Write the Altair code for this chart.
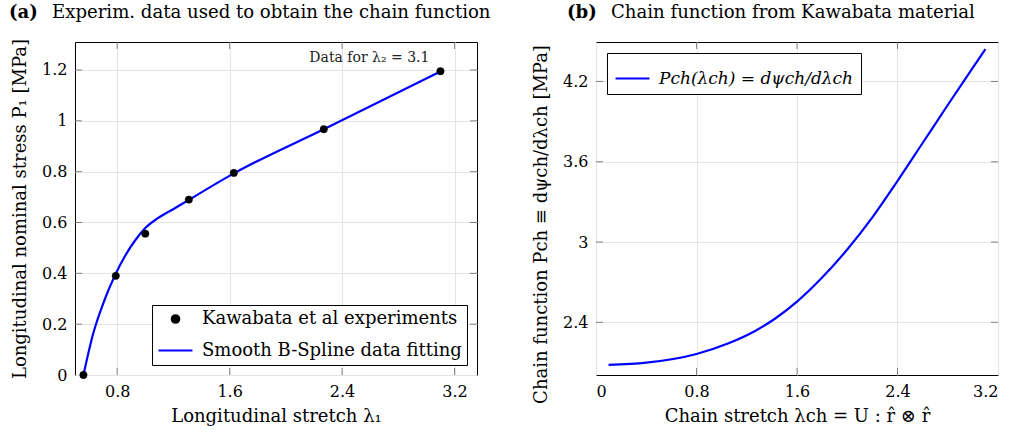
import altair as alt
import pandas as pd

FONT = "DejaVu Serif"
W, H = 402, 333

# ---------------- Panel (a) data ----------------
exp_x = [0.56, 0.79, 1.0, 1.31, 1.63, 2.27, 3.1]
exp_y = [0.0, 0.39, 0.556, 0.69, 0.795, 0.967, 1.195]
fit_x = [0.56, 0.63, 0.71, 0.78, 0.86, 0.93, 1.0, 1.09, 1.21, 1.31, 1.64, 2.27, 3.1]
fit_y = [0.0, 0.164, 0.295, 0.387, 0.472, 0.531, 0.578, 0.617, 0.656, 0.689, 0.796, 0.967, 1.194]
a_xticks = [0.8, 1.6, 2.4, 3.2]
a_yticks = [0, 0.2, 0.4, 0.6, 0.8, 1.0, 1.2]
series_a = ["Kawabata et al experiments", "Smooth B-Spline data fitting"]

# ---------------- Panel (b) data ----------------
chain_x = [0.1, 0.4, 0.8, 1.05, 1.27, 1.43, 1.6, 1.8, 2.0, 2.2, 2.4, 2.6, 2.8, 3.0, 3.1]
chain_y = [2.081, 2.098, 2.163, 2.241, 2.337, 2.43, 2.554, 2.734, 2.944, 3.184, 3.456, 3.74, 4.024, 4.304, 4.442]
b_xticks = [0, 0.8, 1.6, 2.4, 3.2]
b_yticks = [2.4, 3.0, 3.6, 4.2]
series_b = ["Pch(λch) = dψch/dλch"]

TICK_COLOR = "#555555"
TITLE_FS = 18.1


def inner_ticks(xvals, yvals, xs, ys, xa, ya):
    xt = pd.DataFrame({"x": xvals})
    yt = pd.DataFrame({"y": yvals})
    base_x = alt.Chart(xt).mark_tick(color=TICK_COLOR, thickness=1, size=7)
    base_y = alt.Chart(yt).mark_tick(color=TICK_COLOR, thickness=1, size=7)
    return [
        base_x.encode(x=alt.X("x:Q", scale=xs, axis=xa), y=alt.value(H - 3.5)),
        base_x.encode(x=alt.X("x:Q", scale=xs, axis=xa), y=alt.value(3.5)),
        base_y.encode(y=alt.Y("y:Q", scale=ys, axis=ya), x=alt.value(3.5)),
        base_y.encode(y=alt.Y("y:Q", scale=ys, axis=ya), x=alt.value(W - 3.5)),
    ]


def title_layers(tag, text, x_tag, x_text):
    d = pd.DataFrame({"tag": [tag], "txt": [text]})
    t1 = alt.Chart(d).mark_text(font=FONT, fontSize=TITLE_FS, fontWeight="bold", align="left",
                                baseline="alphabetic", color="black").encode(
        text="tag:N", x=alt.value(x_tag), y=alt.value(-24))
    t2 = alt.Chart(d).mark_text(font=FONT, fontSize=TITLE_FS, align="left",
                                baseline="alphabetic", color="black").encode(
        text="txt:N", x=alt.value(x_text), y=alt.value(-24))
    return [t1, t2]


# ---------------- Panel (a) ----------------
xs_a = alt.Scale(domain=[0.5, 3.36], nice=False, zero=False)
ys_a = alt.Scale(domain=[0, 1.31], nice=False, zero=False)
xa_a = alt.Axis(values=a_xticks, format=".1f", title="Longitudinal stretch λ₁")
ya_a = alt.Axis(values=a_yticks, format=".1~f", title="Longitudinal nominal stress P₁ [MPa]")

df_exp = pd.DataFrame({"x": exp_x, "y": exp_y, "series": series_a[0]})
df_fit = pd.DataFrame({"x": fit_x, "y": fit_y})
df_note = pd.DataFrame({"x": exp_x[-1:], "y": exp_y[-1:], "label": ["Data for λ₂ = 3.1"]})

line_a = alt.Chart(df_fit).mark_line(color="#0000ff", strokeWidth=2.2, interpolate="monotone").encode(
    x=alt.X("x:Q", scale=xs_a, axis=xa_a),
    y=alt.Y("y:Q", scale=ys_a, axis=ya_a),
)

leg_a = alt.Legend(title=None, orient="bottom-right", offset=10, fillColor="white", strokeColor="black",
                   padding=5, labelFont=FONT, labelFontSize=18, labelColor="black", labelLimit=400,
                   symbolStrokeWidth=2.2, rowPadding=4, labelOffset=8, cornerRadius=0)

pts_a = alt.Chart(df_exp).mark_point(filled=True, opacity=1, strokeWidth=0.5).encode(
    x=alt.X("x:Q", scale=xs_a, axis=xa_a),
    y=alt.Y("y:Q", scale=ys_a, axis=ya_a),
    fill=alt.Fill("series:N", scale=alt.Scale(domain=series_a, range=["black", "#0000ff"]), legend=leg_a),
    stroke=alt.Stroke("series:N", scale=alt.Scale(domain=series_a, range=["black", "#0000ff"]), legend=leg_a),
    shape=alt.Shape("series:N", scale=alt.Scale(domain=series_a, range=["circle", "stroke"]), legend=leg_a),
    size=alt.Size("series:N", scale=alt.Scale(domain=series_a, range=[55, 1150]), legend=leg_a),
)

note_a = alt.Chart(df_note).mark_text(font=FONT, fontSize=14, align="right", baseline="alphabetic",
                                      dx=-11, dy=-9, color="#222222").encode(
    x=alt.X("x:Q", scale=xs_a, axis=xa_a), y=alt.Y("y:Q", scale=ys_a, axis=ya_a), text="label:N")

panel_a = alt.layer(
    line_a, pts_a, note_a,
    *inner_ticks(a_xticks, a_yticks[1:], xs_a, ys_a, xa_a, ya_a),
    *title_layers("(a)", "Experim. data used to obtain the chain function", -66, -23),
).properties(width=W, height=H)

# ---------------- Panel (b) ----------------
xs_b = alt.Scale(domain=[0, 3.2], nice=False, zero=False)
ys_b = alt.Scale(domain=[2.006, 4.495], nice=False, zero=False)
xa_b = alt.Axis(values=b_xticks, format=".1~f", title="Chain stretch λch = U : r̂ ⊗ r̂")
ya_b = alt.Axis(values=b_yticks, format=".1~f", title="Chain function Pch ≡ dψch/dλch [MPa]", titleY=182)

df_chain = pd.DataFrame({"x": chain_x, "y": chain_y, "series": series_b[0]})

leg_b = alt.Legend(title=None, orient="top-left", offset=11, fillColor="white", strokeColor="black",
                   padding=7, labelFont=FONT, labelFontSize=17, labelFontStyle="italic", labelColor="black",
                   labelLimit=400, symbolType="stroke", symbolSize=1150, symbolStrokeWidth=2.2,
                   labelOffset=8, cornerRadius=0)

line_b = alt.Chart(df_chain).mark_line(strokeWidth=2.2, interpolate="monotone").encode(
    x=alt.X("x:Q", scale=xs_b, axis=xa_b),
    y=alt.Y("y:Q", scale=ys_b, axis=ya_b),
    stroke=alt.Stroke("series:N", scale=alt.Scale(domain=series_b, range=["#0000ff"]), legend=leg_b),
)

panel_b = alt.layer(
    line_b,
    *inner_ticks(b_xticks[1:-1], b_yticks, xs_b, ys_b, xa_b, ya_b),
    *title_layers("(b)", "Chain function from Kawabata material", -29, 15),
).properties(width=W, height=H)

chart = alt.hconcat(panel_a, panel_b, spacing=41).resolve_scale(
    x="independent", y="independent", fill="independent", stroke="independent",
    shape="independent", size="independent",
).resolve_legend(
    fill="independent", stroke="independent", shape="independent", size="independent",
).properties(
    padding={"left": 8, "right": 3, "top": 3, "bottom": 3},
    background="white",
).configure_view(
    stroke="black", strokeWidth=1
).configure_axis(
    grid=True, gridColor="#e4e4e4", gridWidth=1, domain=False, ticks=False,
    labelFont=FONT, labelFontSize=16, labelColor="black", labelPadding=8,
    titleFont=FONT, titleFontSize=18, titleFontWeight="normal", titleColor="black",
).configure_axisY(titlePadding=12).configure_axisX(titlePadding=8)

chart.save("out.html", embed_options={"renderer": "svg", "actions": False})
